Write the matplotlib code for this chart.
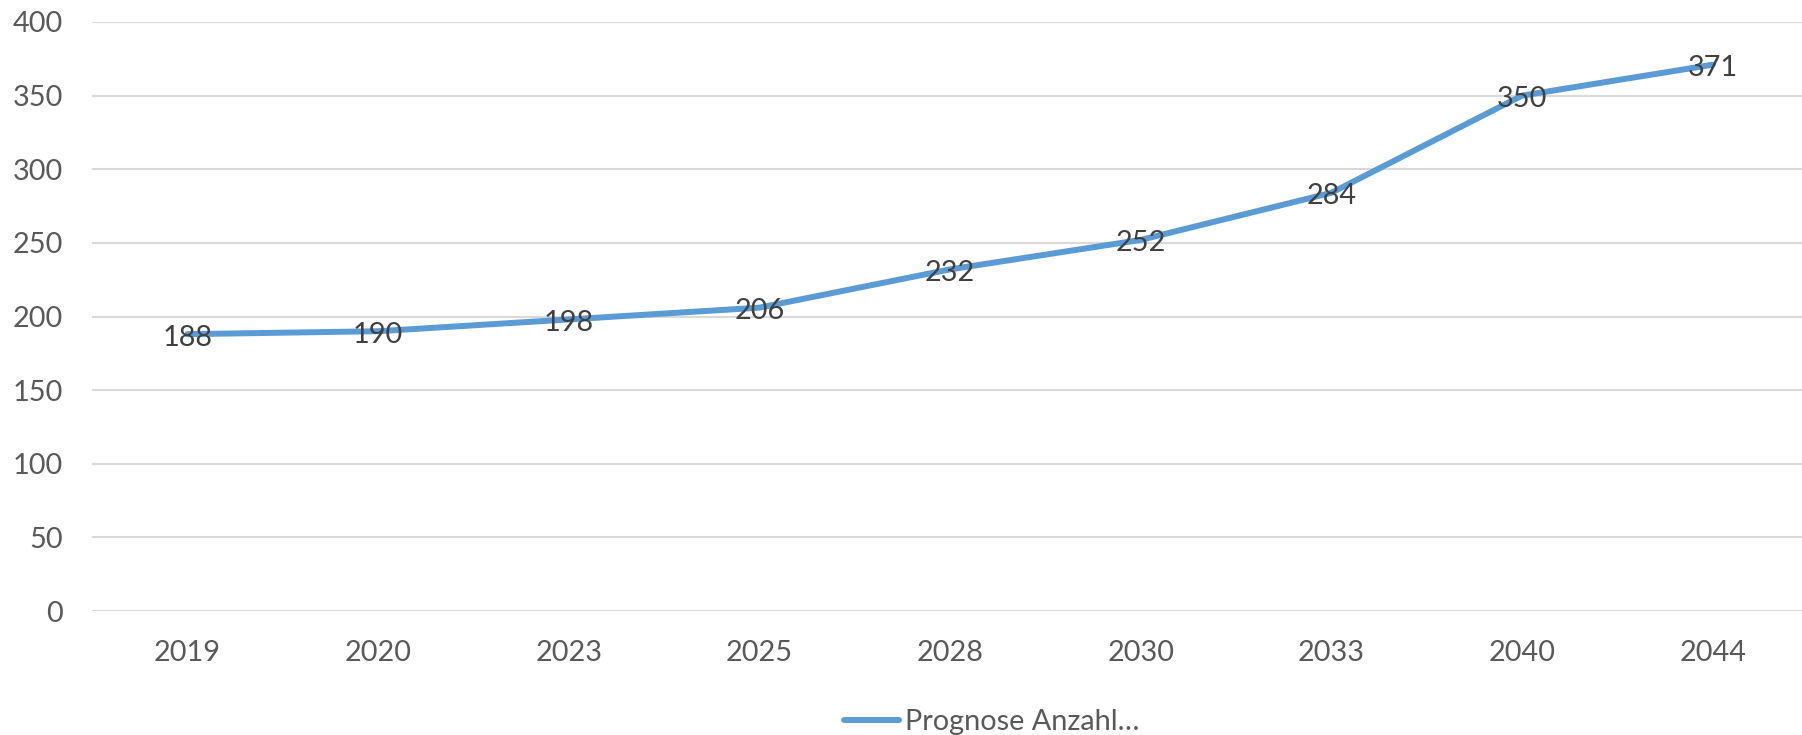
import matplotlib.pyplot as plt

plt.rcParams['font.family'] = ['Lato', 'DejaVu Sans']

years = ['2019', '2020', '2023', '2025', '2028', '2030', '2033', '2040', '2044']
values = [188, 190, 198, 206, 232, 252, 284, 350, 371]
series_name = 'Prognose Anzahl…'

fig = plt.figure(figsize=(18.02, 7.35), dpi=100)
ax = fig.add_axes([92 / 1802, 124 / 735, 1716 / 1802, 589 / 735])

x = list(range(len(years)))
line, = ax.plot(x, values, color='#5B9BD5', linewidth=4.3,
                solid_capstyle='round', zorder=3, label=series_name)

for xi, v in zip(x, values):
    ax.annotate(str(v), (xi, v), xytext=(0, -2.5), textcoords='offset points',
                ha='center', va='center', fontsize=20.8, color='#404040', zorder=4)

ax.set_xlim(-0.5, len(years) - 0.5)
ax.set_ylim(0, 400)
ax.set_yticks(range(0, 401, 50))
ax.set_xticks(x)
ax.set_xticklabels(years)
ax.tick_params(axis='both', length=0, labelsize=20.8, labelcolor='#595959')
ax.tick_params(axis='y', pad=21)
ax.tick_params(axis='x', pad=21)
ax.grid(axis='y', color='#D9D9D9', linewidth=1.5)
ax.set_axisbelow(True)
for s in ax.spines.values():
    s.set_visible(False)

fig.legend(handles=[line], loc='center', bbox_to_anchor=(992 / 1802, 1 - 722 / 735),
           frameon=False, fontsize=20.8, labelcolor='#595959',
           handlelength=1.9, handletextpad=0.2)

fig.savefig('out.png', dpi=100)
